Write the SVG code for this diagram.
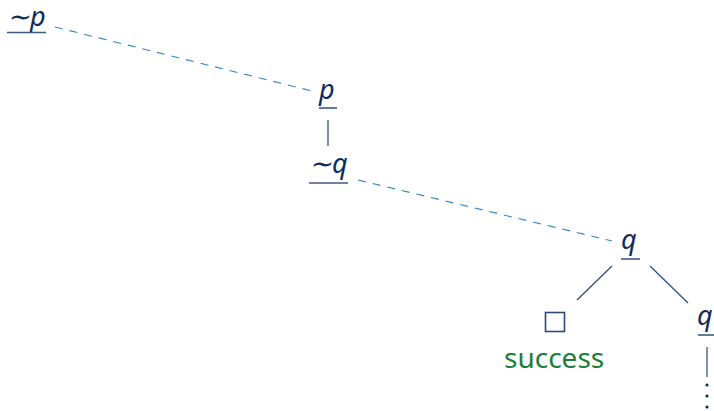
<svg xmlns="http://www.w3.org/2000/svg" width="714" height="411" viewBox="0 0 714 411">
<style>
.t{font-family:"Noto Sans","Open Sans",sans-serif;font-style:italic;font-size:27px;fill:#0f2b5b}
.ul{stroke:#3d5b82;stroke-width:1.6}
.dash{stroke:#2d86c8;stroke-width:1.1;stroke-dasharray:8 7;fill:none}
.sol{stroke:#2b4a75;stroke-width:1.2;fill:none}
.ok{font-family:"Noto Sans","Open Sans",sans-serif;font-size:28px;fill:#1a7f3c}
</style>
<rect width="714" height="411" fill="#fff"/>
<g id="connectors">
<line class="dash" x1="55" y1="27" x2="312" y2="91"/>
<line class="dash" x1="358" y1="180" x2="612" y2="241"/>
<line class="sol" x1="328" y1="120" x2="328" y2="146"/>
<line class="sol" x1="612" y1="266" x2="577" y2="300"/>
<line class="sol" x1="650" y1="266" x2="688" y2="303"/>
<line class="sol" x1="707" y1="347" x2="707" y2="377"/>
</g>
<g id="n1"><text class="t" x="7" y="25.5">∼p</text><line class="ul" x1="7" y1="32.5" x2="46" y2="32.5"/></g>
<g id="n2"><text class="t" x="319" y="99">p</text><line class="ul" x1="319" y1="108" x2="337" y2="108"/></g>
<g id="n3"><text class="t" x="309" y="173">∼q</text><line class="ul" x1="309" y1="183" x2="348" y2="183"/></g>
<g id="n4"><text class="t" x="621" y="249">q</text><line class="ul" x1="621" y1="259" x2="640" y2="259"/></g>
<g id="n5"><rect x="545.5" y="312.5" width="19" height="19" fill="none" stroke="#2b4a75" stroke-width="1.6"/><text class="ok" x="504" y="368">success</text></g>
<g id="n6"><text class="t" x="697" y="325">q</text><line class="ul" x1="698" y1="335" x2="714" y2="335"/></g>
<g id="dots" fill="#0f2b5b"><circle cx="707" cy="385" r="1.6"/><circle cx="707" cy="396" r="1.6"/><circle cx="707" cy="407" r="1.6"/></g>
</svg>
